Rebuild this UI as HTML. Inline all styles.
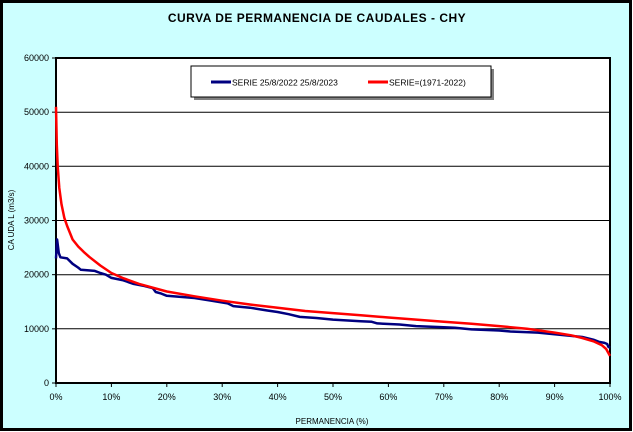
<!DOCTYPE html>
<html><head><style>
body{margin:0;width:633px;height:432px;overflow:hidden;background:#fff}
svg{display:block;font-family:"Liberation Sans",Arial,sans-serif}
</style></head><body>
<svg width="633" height="432" viewBox="0 0 633 432" xmlns="http://www.w3.org/2000/svg">
<rect x="1.5" y="1.5" width="629" height="428" fill="#ccffff" stroke="#000" stroke-width="3"/>
<text x="317" y="22" text-anchor="middle" font-size="12" font-weight="bold" letter-spacing="0.5">CURVA DE PERMANENCIA DE CAUDALES - CHY</text>
<rect x="56" y="58" width="554" height="325" fill="#fff"/>
<g stroke="#000" stroke-width="1">
<line x1="56" y1="112.2" x2="610" y2="112.2"/>
<line x1="56" y1="166.3" x2="610" y2="166.3"/>
<line x1="56" y1="220.5" x2="610" y2="220.5"/>
<line x1="56" y1="274.7" x2="610" y2="274.7"/>
<line x1="56" y1="328.8" x2="610" y2="328.8"/>
</g>
<rect x="56" y="58" width="554" height="325" fill="none" stroke="#000" stroke-width="2"/>
<g id="ticks" stroke="#000" stroke-width="1"></g>
<g font-size="9" text-anchor="end" id="ylab"></g>
<g font-size="9" text-anchor="middle" id="xlab"></g>
<text x="14" y="220" font-size="8" text-anchor="middle" transform="rotate(-90 14 220)">CA UDA L (m3/s)</text>
<text x="332" y="424" font-size="8" text-anchor="middle">PERMANENCIA (%)</text>
<rect x="194" y="69" width="300" height="31" fill="#808080"/>
<rect x="191" y="66" width="300" height="31" fill="#fff" stroke="#000" stroke-width="1"/>
<line x1="211" y1="82" x2="231" y2="82" stroke="#000080" stroke-width="3"/>
<text x="232" y="85.5" font-size="8.5">SERIE 25/8/2022 25/8/2023</text>
<line x1="368" y1="82" x2="388" y2="82" stroke="#ff0000" stroke-width="3"/>
<text x="389" y="85.5" font-size="8.5">SERIE=(1971-2022)</text>
<path id="blue" fill="none" stroke="#000080" stroke-width="2.5" stroke-linejoin="round"/>
<path id="red" fill="none" stroke="#ff0000" stroke-width="2.5" stroke-linejoin="round"/>
</svg>
<script>
function X(p){return 56+p*5.54}
function Y(v){return 383-v*325/60000}
var ns="http://www.w3.org/2000/svg";
var yl=document.getElementById('ylab'),xl=document.getElementById('xlab'),tk=document.getElementById('ticks');
for(var i=0;i<=6;i++){var t=document.createElementNS(ns,'text');t.setAttribute('x',49);t.setAttribute('y',Y(i*10000)+3);t.textContent=i*10000;yl.appendChild(t);
var l=document.createElementNS(ns,'line');l.setAttribute('x1',52);l.setAttribute('x2',56);l.setAttribute('y1',Y(i*10000));l.setAttribute('y2',Y(i*10000));tk.appendChild(l);}
for(var i=0;i<=10;i++){var t=document.createElementNS(ns,'text');t.setAttribute('x',X(i*10));t.setAttribute('y',400);t.textContent=(i*10)+'%';xl.appendChild(t);
var l=document.createElementNS(ns,'line');l.setAttribute('x1',X(i*10));l.setAttribute('x2',X(i*10));l.setAttribute('y1',383);l.setAttribute('y2',387);tk.appendChild(l);}
function P(a){return a.map(function(q,i){return (i?'L':'M')+X(q[0]).toFixed(1)+' '+Y(q[1]).toFixed(1)}).join(' ')}
var red=[[0,51000],[0.15,44000],[0.3,40000],[0.6,36000],[1,33000],[1.5,30500],[2,29000],[3,26500],[4,25200],[5,24200],[6,23300],[8,21700],[10,20300],[12,19400],[15,18300],[20,16900],[25,16000],[30,15200],[35,14500],[40,13900],[45,13300],[50,12900],[55,12500],[60,12100],[65,11700],[70,11300],[75,10950],[80,10500],[85,10000],[90,9300],[93,8800],[95,8300],[97,7700],[98.5,7000],[99.3,6300],[100,5000]];
var blue=[[0,23000],[0.2,26500],[0.5,24000],[0.8,23200],[2,23000],[3,22000],[4,21300],[4.5,20900],[7,20700],[8,20300],[9,20000],[10,19400],[12,19000],[14,18300],[16,17900],[17.5,17500],[18,16800],[19,16500],[20,16100],[25,15700],[28,15200],[31,14700],[32,14200],[35,13900],[38,13400],[40,13100],[42,12700],[44,12200],[47,12000],[50,11700],[55,11400],[57,11300],[58,11000],[62,10800],[65,10500],[70,10300],[72,10200],[75,9900],[80,9700],[82,9500],[87,9300],[90,9000],[93,8700],[95,8500],[97,8000],[98,7600],[99,7400],[99.5,7200],[99.7,6700],[100,6500]];
document.getElementById('red').setAttribute('d',P(red));
document.getElementById('blue').setAttribute('d',P(blue));
</script>
</body></html>
